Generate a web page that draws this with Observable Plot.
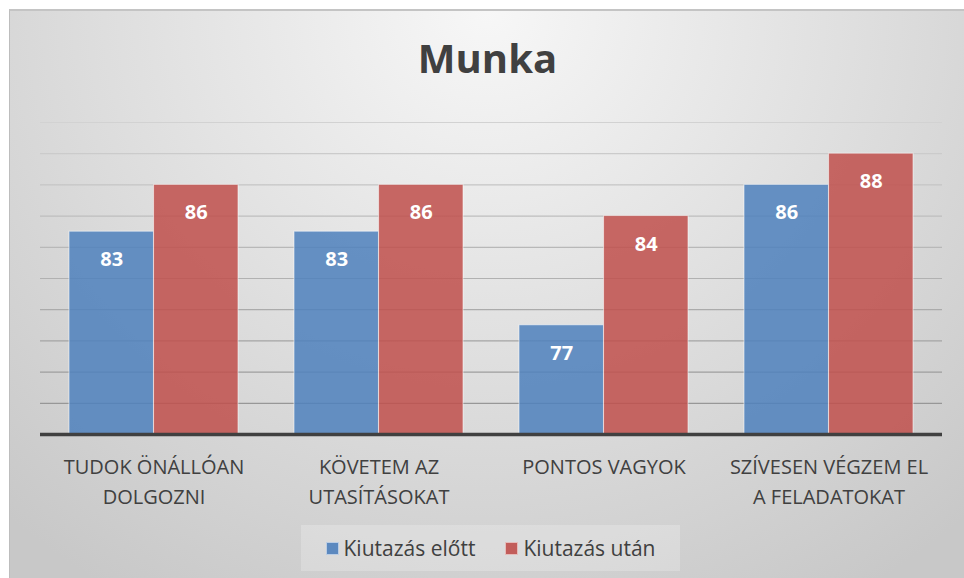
<!DOCTYPE html>
<html>
<head>
<meta charset="utf-8">
<script src="https://cdn.jsdelivr.net/npm/d3@7"></script>
<script src="https://cdn.jsdelivr.net/npm/@observablehq/plot@0.6"></script>
<style>
  html, body { margin: 0; padding: 0; background: #ffffff; }
  #frame {
    position: absolute; left: 9px; top: 9px; width: 955px; height: 569px;
    box-sizing: border-box; border-left: 1px solid #bdbdbd; border-top: 2px solid #c4c4c4;
    background: radial-gradient(ellipse 75% 120% at 50% 0%, #f7f7f7 0%, #e2e2e2 45%, #c8c8c8 100%);
    overflow: hidden; font-family: "Open Sans", sans-serif;
  }
  #title {
    position: absolute; left: 0; top: 27px; width: 955px; text-align: center;
    font-size: 40px; line-height: 40px; font-weight: bold; color: #404040;
  }
  #chart { position: absolute; left: 0; top: 89px; }
  #legend {
    position: absolute; left: 291px; top: 514px; width: 379px; height: 46px;
    background: rgba(255,255,255,0.22); display: flex; align-items: center; justify-content: center;
    gap: 30px; font-size: 21px; color: #404040;
  }
  .item { display: flex; align-items: center; }
  .sw { width: 13px; height: 13px; margin-right: 5px; box-sizing: border-box; border: 1px solid rgba(255,255,255,0.6); }
</style>
</head>
<body>
<div id="frame">
  <div id="title">Munka</div>
  <div id="chart"></div>
  <div id="legend"></div>
</div>
<script>
const categories = ["TUDOK ÖNÁLLÓAN DOLGOZNI", "KÖVETEM AZ UTASÍTÁSOKAT", "PONTOS VAGYOK", "SZÍVESEN VÉGZEM EL A FELADATOKAT"];
const tickLabels = ["TUDOK ÖNÁLLÓAN\nDOLGOZNI", "KÖVETEM AZ\nUTASÍTÁSOKAT", "PONTOS VAGYOK", "SZÍVESEN VÉGZEM EL\nA FELADATOKAT"];
const series = ["Kiutazás előtt", "Kiutazás után"];
const before = [83, 83, 77, 86];
const after = [86, 86, 84, 88];
const colors = ["#4F81BD", "#C0504D"];
const gridTicks = [72, 74, 76, 78, 80, 82, 84, 86, 88, 90];
const yDomain = [70, 90];

const data = categories.flatMap((c, i) => [
  {category: c, series: series[0], value: before[i]},
  {category: c, series: series[1], value: after[i]}
]);

const W = 954, H = 420, mL = 30, mR = 22, mT = 22, mB = 86;
const padInner = 0.25, padOuter = 0.125;
const step = (W - mL - mR) / (categories.length - padInner + 2 * padOuter);
const half = step * (1 - padInner) / 2;

const gridColor = d3.interpolateRgb("#d2d2d2", "#979797");
const gridMarks = gridTicks.map(t =>
  Plot.ruleY([t], {stroke: gridColor((yDomain[1] - t) / (yDomain[1] - yDomain[0] - 2)), strokeWidth: 1.2})
);

const blue = data.filter(d => d.series === series[0]);
const red = data.filter(d => d.series === series[1]);

const chart = Plot.plot({
  width: W, height: H,
  marginLeft: mL, marginRight: mR, marginTop: mT, marginBottom: mB,
  style: {background: "transparent", fontFamily: "Open Sans, sans-serif", overflow: "visible"},
  x: {domain: categories, paddingInner: padInner, paddingOuter: padOuter},
  y: {domain: yDomain, axis: null},
  color: {domain: series, range: colors},
  marks: [
    ...gridMarks,
    Plot.barY(blue, {x: "category", y1: yDomain[0], y2: "value", fill: "series", fillOpacity: 0.86, stroke: "#ffffff", strokeOpacity: 0.55, strokeWidth: 1, insetRight: half}),
    Plot.barY(red, {x: "category", y1: yDomain[0], y2: "value", fill: "series", fillOpacity: 0.86, stroke: "#ffffff", strokeOpacity: 0.55, strokeWidth: 1, insetLeft: half}),
    Plot.ruleY([yDomain[0]], {stroke: "#404040", strokeWidth: 3.5}),
    Plot.text(blue, {x: "category", y: "value", text: d => String(d.value), dx: -half / 2, dy: 28, fill: "#ffffff", fontSize: 20, fontWeight: "bold"}),
    Plot.text(red, {x: "category", y: "value", text: d => String(d.value), dx: half / 2, dy: 28, fill: "#ffffff", fontSize: 20, fontWeight: "bold"}),
    Plot.axisX({tickSize: 0, tickPadding: 18, fontSize: 20, lineHeight: 1.5, fill: "#404040", label: null,
      tickFormat: d => tickLabels[categories.indexOf(d)]})
  ]
});
document.getElementById("chart").appendChild(chart);

const legend = document.getElementById("legend");
series.forEach((s, i) => {
  const item = document.createElement("div");
  item.className = "item";
  const sw = document.createElement("span");
  sw.className = "sw";
  sw.style.background = colors[i];
  sw.style.opacity = 0.9;
  const label = document.createElement("span");
  label.textContent = s;
  item.appendChild(sw);
  item.appendChild(label);
  legend.appendChild(item);
});
</script>
</body>
</html>
